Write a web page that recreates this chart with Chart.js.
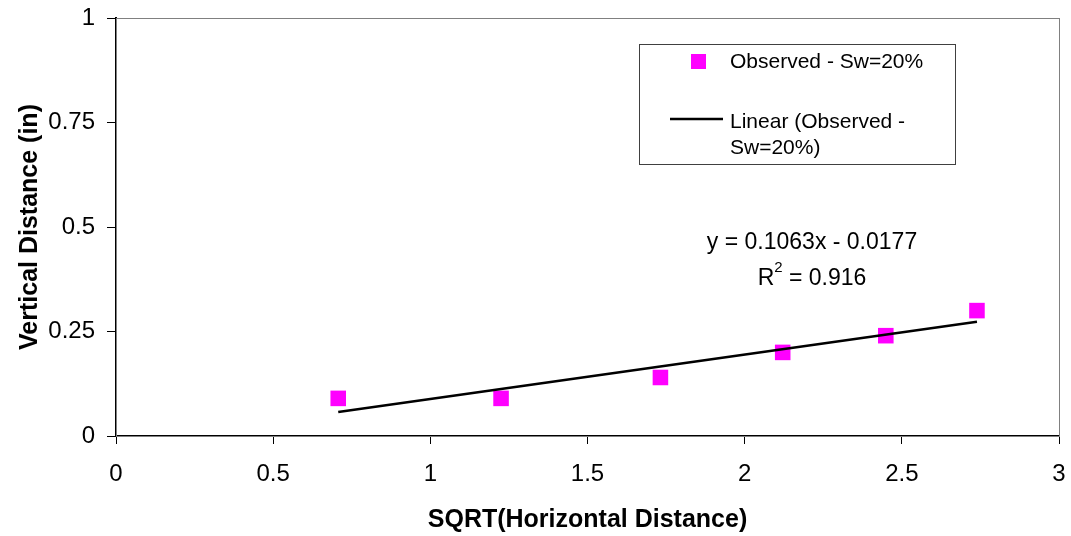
<!DOCTYPE html>
<html>
<head>
<meta charset="utf-8">
<script src="https://cdn.jsdelivr.net/npm/chart.js@4.4.1/dist/chart.umd.min.js"></script>
<style>
  html, body { margin: 0; padding: 0; background: #fff; }
  #wrap { width: 1071px; height: 536px; }
</style>
</head>
<body>
<div id="wrap"><canvas id="chart" width="1071" height="536"></canvas></div>
<script>
// observed points: sqrt(horizontal distance) vs vertical distance
const xObs = [0.707, 1.225, 1.732, 2.121, 2.449, 2.739];
const yObs = [0.09, 0.09, 0.14, 0.20, 0.24, 0.30];

// trend line end points
const xTrend = [0.707, 2.739];
const yTrend = [0.0575, 0.2735];

const xTicks = [0, 0.5, 1, 1.5, 2, 2.5, 3];
const yTicks = [0, 0.25, 0.5, 0.75, 1];

const obsLabel = 'Observed - Sw=20%';
const trendLabel = ['Linear (Observed -', 'Sw=20%)'];
const eqLine = 'y = 0.1063x - 0.0177';
const r2Value = '0.916';

const FONT = 'Liberation Sans, Arial, Helvetica, sans-serif';
const MAGENTA = '#FF00FF';

const toPoints = (xs, ys) => xs.map((x, i) => ({ x: x, y: ys[i] }));

// grey frame round the plot area
const framePlugin = {
  id: 'frame',
  beforeDatasetsDraw(chart) {
    const { ctx, chartArea: a } = chart;
    ctx.save();
    ctx.strokeStyle = '#808080';
    ctx.lineWidth = 1;
    ctx.strokeRect(a.left + 0.5, a.top + 0.5, a.right - a.left, a.bottom - a.top);
    ctx.restore();
  }
};

// legend box and the trend equation
const notesPlugin = {
  id: 'notes',
  afterDraw(chart) {
    const ctx = chart.ctx;
    ctx.save();

    // legend
    ctx.fillStyle = '#fff';
    ctx.fillRect(639, 44, 316, 120);
    ctx.strokeStyle = '#404040';
    ctx.lineWidth = 1;
    ctx.strokeRect(639.5, 44.5, 316, 120);

    ctx.fillStyle = MAGENTA;
    ctx.fillRect(691, 54, 15, 15);

    ctx.strokeStyle = '#000';
    ctx.lineWidth = 2.5;
    ctx.beginPath();
    ctx.moveTo(670, 119);
    ctx.lineTo(723, 119);
    ctx.stroke();

    ctx.fillStyle = '#000';
    ctx.font = '21px ' + FONT;
    ctx.textAlign = 'left';
    ctx.textBaseline = 'middle';
    ctx.fillText(obsLabel, 730, 62);
    ctx.fillText(trendLabel[0], 730, 122);
    ctx.fillText(trendLabel[1], 730, 148);

    // equation
    ctx.font = '23px ' + FONT;
    ctx.textAlign = 'center';
    ctx.fillText(eqLine, 812, 243);

    const r = 'R';
    const rest = ' = ' + r2Value;
    const wR = ctx.measureText(r).width;
    const wRest = ctx.measureText(rest).width;
    ctx.font = '15px ' + FONT;
    const wSup = ctx.measureText('2').width;
    const total = wR + wSup + wRest;
    let x0 = 812 - total / 2;
    ctx.textAlign = 'left';
    ctx.font = '23px ' + FONT;
    ctx.fillText(r, x0, 279);
    ctx.font = '15px ' + FONT;
    ctx.fillText('2', x0 + wR, 268);
    ctx.font = '23px ' + FONT;
    ctx.fillText(rest, x0 + wR + wSup, 279);

    ctx.restore();
  }
};

new Chart(document.getElementById('chart'), {
  type: 'scatter',
  data: {
    datasets: [
      {
        label: obsLabel,
        data: toPoints(xObs, yObs),
        pointStyle: 'rect',
        pointRadius: 11,
        pointBackgroundColor: MAGENTA,
        pointBorderColor: MAGENTA,
        pointBorderWidth: 0,
        showLine: false,
        order: 2
      },
      {
        label: trendLabel.join(' '),
        data: toPoints(xTrend, yTrend),
        type: 'line',
        showLine: true,
        borderColor: '#000',
        borderWidth: 2.5,
        pointRadius: 0,
        fill: false,
        order: 1
      }
    ]
  },
  options: {
    responsive: false,
    animation: false,
    layout: { padding: { top: 18, right: 12, bottom: 0, left: 0 } },
    plugins: {
      legend: { display: false },
      tooltip: { enabled: false }
    },
    scales: {
      x: {
        type: 'linear',
        min: 0,
        max: 3,
        afterBuildTicks: s => { s.ticks = xTicks.map(v => ({ value: v })); },
        afterFit: s => { s.height = 100; s.paddingLeft = 0; s.paddingRight = 0; },
        ticks: {
          color: '#000',
          font: { family: FONT, size: 24 },
          padding: 16,
          callback: v => String(v)
        },
        grid: { drawOnChartArea: false, drawTicks: true, tickLength: 8, color: '#000', tickColor: '#000' },
        border: { display: true, color: '#000', width: 2 },
        title: {
          display: true,
          text: 'SQRT(Horizontal Distance)',
          color: '#000',
          font: { family: FONT, size: 25, weight: 'bold' },
          padding: { top: 0, bottom: 1 }
        }
      },
      y: {
        type: 'linear',
        min: 0,
        max: 1,
        afterBuildTicks: s => { s.ticks = yTicks.map(v => ({ value: v })); },
        afterFit: s => { s.width = 116; s.paddingTop = 0; s.paddingBottom = 0; },
        ticks: {
          color: '#000',
          font: { family: FONT, size: 24 },
          padding: 12,
          callback: v => String(v)
        },
        grid: { drawOnChartArea: false, drawTicks: true, tickLength: 9, color: '#000', tickColor: '#000' },
        border: { display: true, color: '#000', width: 2 },
        title: {
          display: true,
          text: 'Vertical Distance (in)',
          color: '#000',
          font: { family: FONT, size: 25, weight: 'bold' },
          padding: { top: 15, bottom: 0 }
        }
      }
    }
  },
  plugins: [framePlugin, notesPlugin]
});
</script>
</body>
</html>
